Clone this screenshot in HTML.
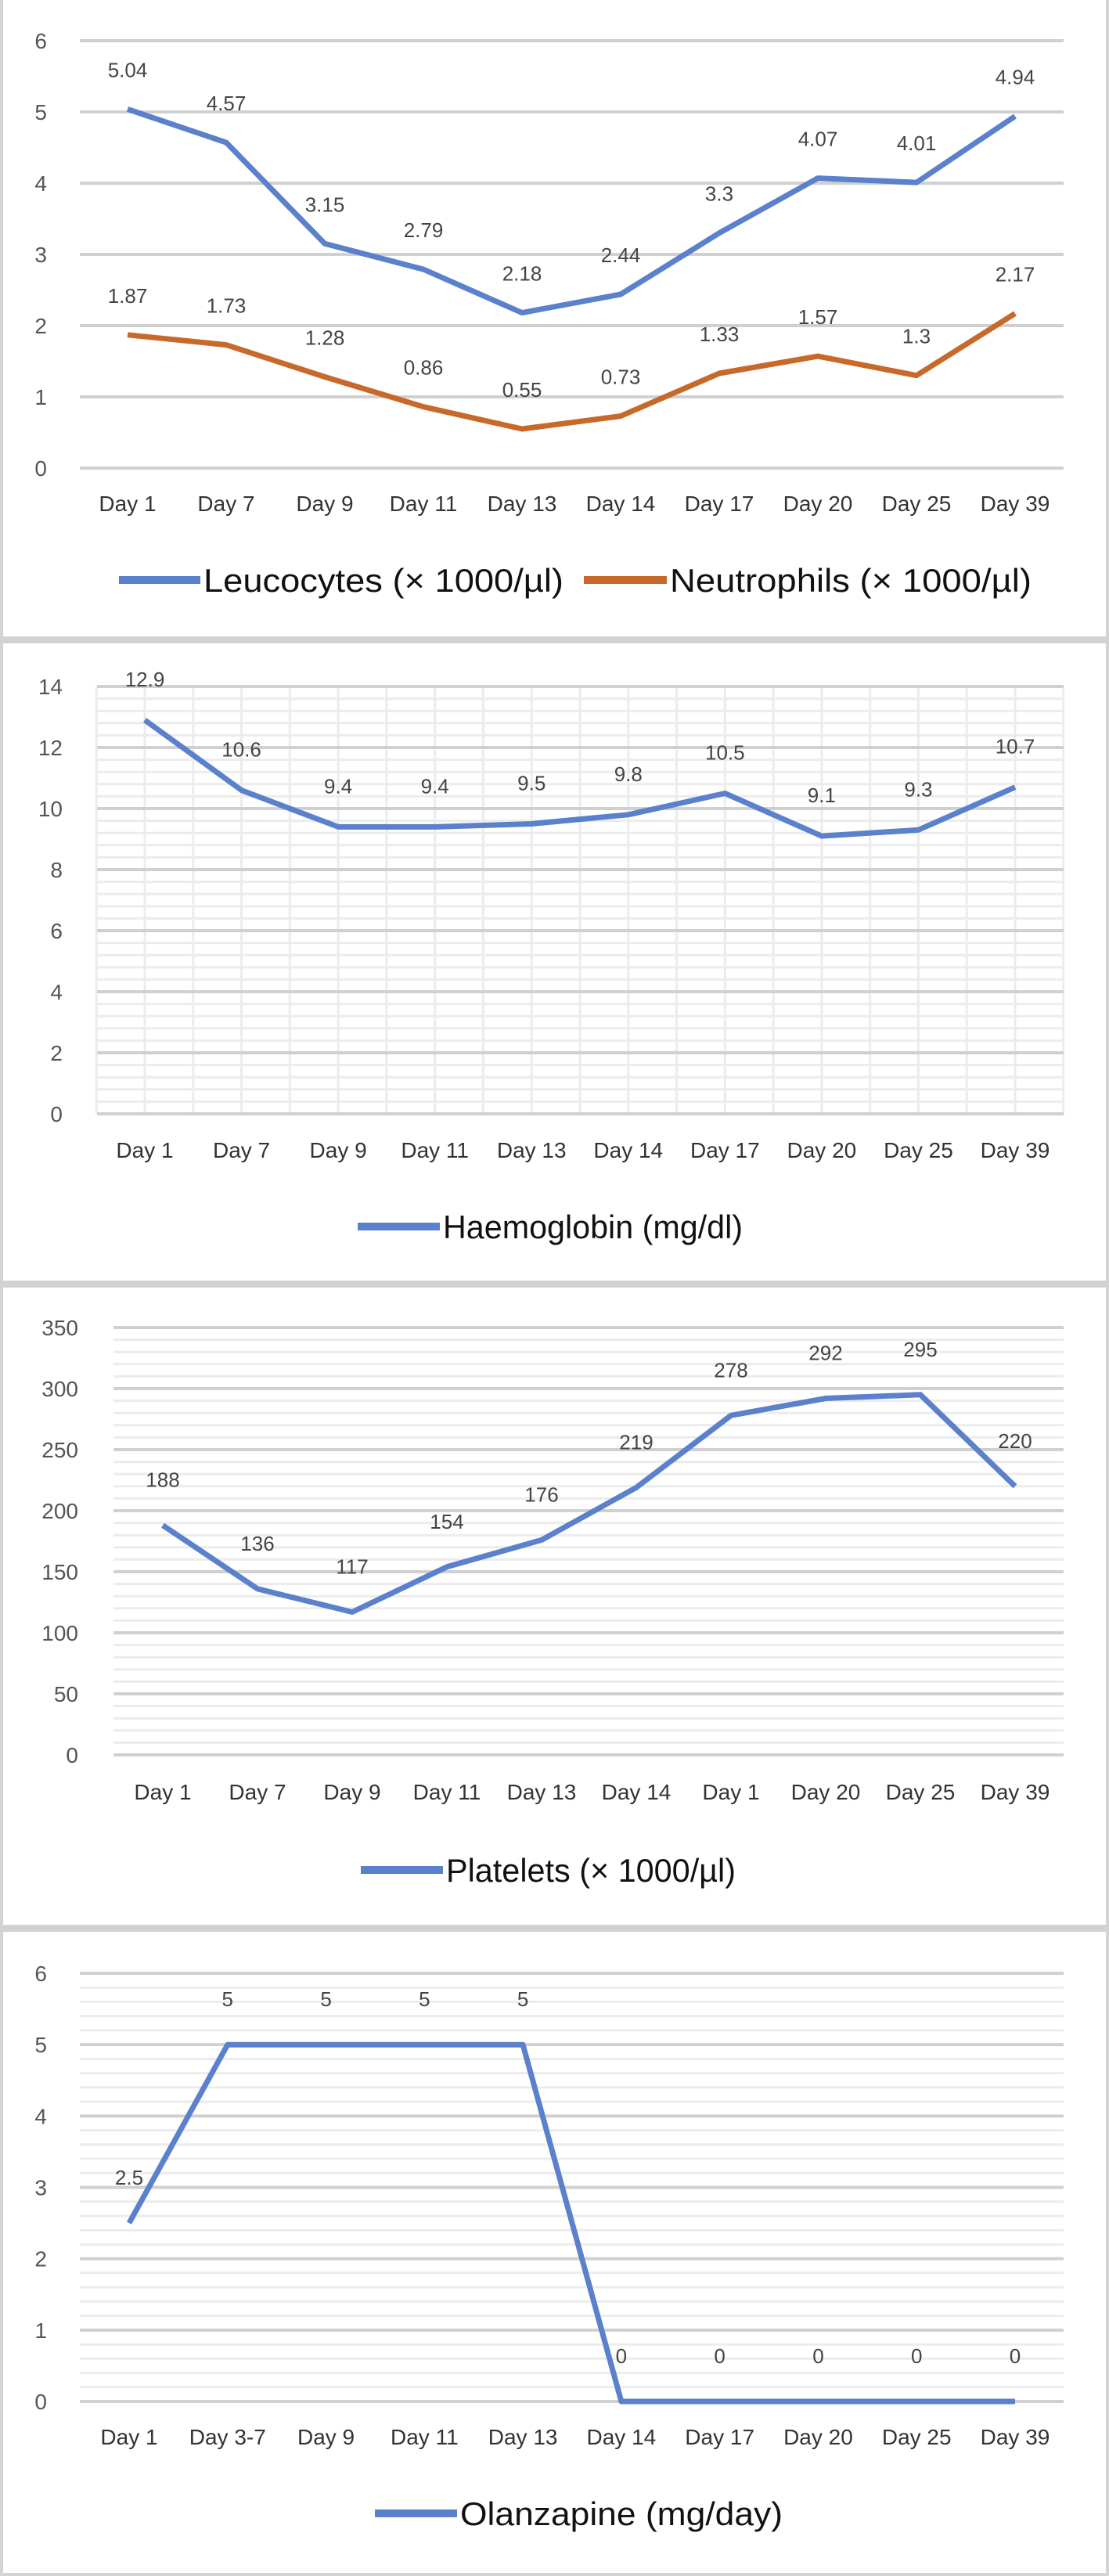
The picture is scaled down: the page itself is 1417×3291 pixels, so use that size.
<!DOCTYPE html>
<html><head><meta charset="utf-8"><style>
html,body{margin:0;padding:0;background:#fff;}
svg{display:block;font-family:"Liberation Sans",sans-serif;}
</style></head><body>
<svg id="c" width="1417" height="3291" viewBox="0 0 1417 3291"></svg>
<script>
const days1 = ["Day 1","Day 7","Day 9","Day 11","Day 13","Day 14","Day 17","Day 20","Day 25","Day 39"];
const leucocytes = [5.04,4.57,3.15,2.79,2.18,2.44,3.3,4.07,4.01,4.94];
const neutrophils = [1.87,1.73,1.28,0.86,0.55,0.73,1.33,1.57,1.3,2.17];
const ticks1 = [0,1,2,3,4,5,6];
const days2 = ["Day 1","Day 7","Day 9","Day 11","Day 13","Day 14","Day 17","Day 20","Day 25","Day 39"];
const haemoglobin = [12.9,10.6,9.4,9.4,9.5,9.8,10.5,9.1,9.3,10.7];
const ticks2 = [0,2,4,6,8,10,12,14];
const days3 = ["Day 1","Day 7","Day 9","Day 11","Day 13","Day 14","Day 1","Day 20","Day 25","Day 39"];
const platelets = [188,136,117,154,176,219,278,292,295,220];
const ticks3 = [0,50,100,150,200,250,300,350];
const days4 = ["Day 1","Day 3-7","Day 9","Day 11","Day 13","Day 14","Day 17","Day 20","Day 25","Day 39"];
const olanzapine = [2.5,5,5,5,5,0,0,0,0,0];
const ticks4 = [0,1,2,3,4,5,6];

const NS="http://www.w3.org/2000/svg";
const svg=document.getElementById('c');
function mk(tag,attrs,parent){const e=document.createElementNS(NS,tag);for(const k in attrs)e.setAttribute(k,attrs[k]);(parent||svg).appendChild(e);return e;}

const fr=mk('rect',{x:2,y:-4,width:1413,height:3293,fill:'none',stroke:'#d4d4d4','stroke-width':4});


[818,1641,2464].forEach(y=>{
  const s=mk('rect',{x:0,y:y-5,width:1417,height:9,fill:'#d2d2d2'});
  
  
});

function chart(o){
  const g=mk('g',{});
  
  
  const maxT=o.ticks[o.ticks.length-1];
  const yS=v=>o.y0+(o.yTop-o.y0)*(v/maxT);
  const n=o.cats.length;
  const step=(o.xLast-o.xFirst)/(n-1);
  const xS=i=>o.xFirst+i*step;
  if(o.minor){
    for(let v=0;v<=maxT+1e-9;v+=o.minor){
      const l=mk('line',{x1:o.gx0,x2:o.gx1,y1:yS(v),y2:yS(v),stroke:'#ececec','stroke-width':3},g);
      
      
    }
  }
  if(o.vgrid){
    for(let k=0;k<=2*n;k++){
      const x=o.xFirst-step/2+k*step/2;
      const l=mk('line',{x1:x,x2:x,y1:o.yTop,y2:o.y0,stroke:'#ececec','stroke-width':3},g);
      
      
    }
  }
  o.ticks.forEach(t=>{
    const l=mk('line',{x1:o.gx0,x2:o.gx1,y1:yS(t),y2:yS(t),stroke:'#d0d0d0','stroke-width':4},g);
    
    
    const tx=mk('text',{x:o.tickX,y:yS(t)+10,'text-anchor':'end','font-size':28,fill:'#555'},g);
    tx.textContent=t;
    
    
  });
  o.cats.forEach((c,i)=>{
    const tx=mk('text',{x:xS(i),y:o.labY+10,'text-anchor':'middle','font-size':28,fill:'#333'},g);
    tx.textContent=c;
    
    
  });
  o.series.forEach(s=>{
    const pts=s.vals.map((v,i)=>xS(i).toFixed(1)+','+yS(v).toFixed(1)).join(' ');
    const pl=mk('polyline',{points:pts,fill:'none',stroke:s.color,'stroke-width':7,'stroke-linejoin':'round'},g);
    
    
    s.vals.forEach((v,i)=>{
      const tx=mk('text',{x:xS(i),y:yS(v)-o.lblOff+3,'text-anchor':'middle','font-size':26,fill:'#444'},g);
      tx.textContent=v;
      
      
    });
  });
  o.legend.forEach(L=>{
    const ln=mk('line',{x1:L.x1,x2:L.x2,y1:o.legY,y2:o.legY,stroke:L.color,'stroke-width':10},g);
    
    
    const tx=mk('text',{x:L.x2+4,y:o.legY+15,'font-size':42,fill:'#111',textLength:L.w,lengthAdjust:'spacingAndGlyphs'},g);
    tx.textContent=L.text;
    
    
  });
}
const BLUE='#5b80cc', ORANGE='#c8692c';
chart({name:'leucocytes-neutrophils-chart',cats:days1,ticks:ticks1,yTop:52,y0:598,gx0:102,gx1:1359,xFirst:163,xLast:1297,tickX:60,labY:643,lblOff:44,
  series:[{key:'leucocytes',vals:leucocytes,color:BLUE},{key:'neutrophils',vals:neutrophils,color:ORANGE}],
  legY:741,legend:[{x1:152,x2:256,color:BLUE,text:'Leucocytes (× 1000/µl)',w:460},{x1:746,x2:852,color:ORANGE,text:'Neutrophils (× 1000/µl)',w:462}]});
chart({name:'haemoglobin-chart',cats:days2,ticks:ticks2,yTop:877,y0:1423,gx0:124,gx1:1359,xFirst:185,xLast:1297,tickX:80,labY:1469,lblOff:46,minor:0.4,vgrid:true,
  series:[{key:'haemoglobin',vals:haemoglobin,color:BLUE}],
  legY:1567,legend:[{x1:457,x2:562,color:BLUE,text:'Haemoglobin (mg/dl)',w:383}]});
chart({name:'platelets-chart',cats:days3,ticks:ticks3,yTop:1696,y0:2242,gx0:145,gx1:1359,xFirst:208,xLast:1297,tickX:100,labY:2289,lblOff:52,minor:10,
  series:[{key:'platelets',vals:platelets,color:BLUE}],
  legY:2389,legend:[{x1:461,x2:566,color:BLUE,text:'Platelets (× 1000/µl)',w:370}]});
chart({name:'olanzapine-chart',cats:days4,ticks:ticks4,yTop:2521,y0:3068,gx0:102,gx1:1359,xFirst:165,xLast:1297,tickX:60,labY:3113,lblOff:52,minor:0.2,
  series:[{key:'olanzapine',vals:olanzapine,color:BLUE}],
  legY:3211,legend:[{x1:479,x2:584,color:BLUE,text:'Olanzapine (mg/day)',w:412}]});
</script>
</body></html>
